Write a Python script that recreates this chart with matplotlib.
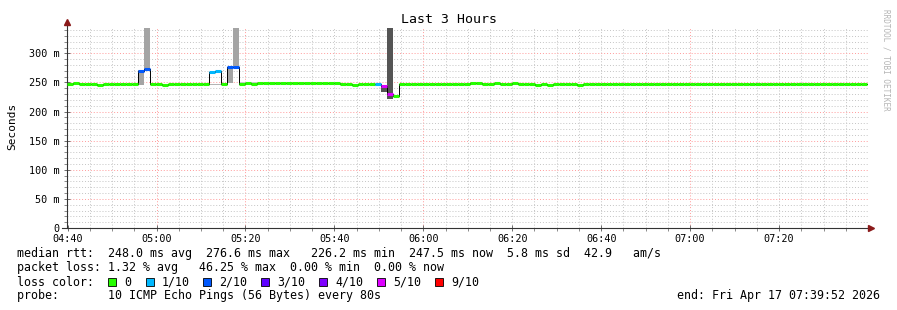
import numpy as np
import matplotlib
matplotlib.use('Agg')
import matplotlib.pyplot as plt
from matplotlib.patches import Rectangle
from matplotlib.lines import Line2D

# --- data ---
# one value per 80 s step, first step starts at 04:39:52
step_min = 80 / 60.0
t_start = -8 / 60.0  # minutes relative to 04:40

median_ms = [
    248.0, 248.2, 246.6, 246.5, 246.7, 246.4, 246.6, 246.5, 246.6, 248.0,
    247.9, 246.5, 270.5, 273.5, 246.5, 248.0, 246.4, 246.6, 248.0, 247.8,
    248.1, 248.0, 246.6, 246.5, 268.0, 270.0, 248.0, 276.6, 276.6, 248.0,
    248.2, 248.0, 249.0, 249.2, 248.8, 249.0, 249.1, 248.9, 249.0, 249.2,
    249.0, 248.8, 249.0, 249.1, 249.0, 248.9, 247.8, 246.5, 246.4, 247.6,
    247.5, 247.4, 247.0, 244.5, 231.0, 226.2, 246.8, 247.5, 247.6, 247.4,
    247.5, 247.6, 247.5, 247.5, 247.4, 247.6, 247.5, 247.5, 249.0, 249.1,
    247.5, 247.6, 249.0, 247.5, 247.4, 249.0, 247.5, 247.6, 247.5, 246.4,
    246.5, 246.4, 247.5, 247.6, 247.4, 247.5, 245.0, 246.8, 247.0, 246.9,
    247.0, 246.6, 246.8, 247.0, 247.2, 247.5, 247.3, 247.5, 247.4, 247.6,
    247.5, 247.6, 247.5, 247.8, 247.5, 247.4, 247.6, 247.5, 247.3, 247.5,
    247.7, 247.5, 247.6, 247.4, 247.5, 247.5, 247.6, 247.8, 247.5, 247.4,
    247.5, 247.6, 247.5, 247.3, 247.5, 247.6, 247.7, 247.5, 247.4, 247.5,
    247.6, 247.5, 247.6, 247.5, 247.5,
]

loss_steps = [12, 13, 24, 25, 27, 28, 52, 53, 54]
loss_count = [2, 2, 1, 1, 2, 2, 1, 5, 5]

smoke_steps = [12, 13, 24, 25, 27, 28, 29, 30, 31, 52, 53, 54]
smoke_lo = [246.0, 273.0, 245.5, 245.5, 249.0, 277.0, 247.5, 247.5, 247.5, 244.5, 234.0, 221.0]
smoke_hi = [271.0, 400.0, 247.5, 247.5, 275.0, 400.0, 250.5, 250.5, 250.5, 246.0, 243.5, 400.0]

xtick_min = [0, 20, 40, 60, 80, 100, 120, 140, 160]
xtick_labels = ['04:40', '05:00', '05:20', '05:40', '06:00', '06:20', '06:40', '07:00', '07:20']
red_vlines = [20, 40, 80, 140]
ytick_ms = [0, 50, 100, 150, 200, 250, 300]
ytick_labels = ['0', '50 m', '100 m', '150 m', '200 m', '250 m', '300 m']

legend_loss = [0, 1, 2, 3, 4, 5, 9]
legend_loss_labels = ['0', '1/10', '2/10', '3/10', '4/10', '5/10', '9/10']

# --- styles ---
loss_colors = {0: '#26ff00', 1: '#00b8ff', 2: '#0059ff', 3: '#5e00ff',
               4: '#7e00ff', 5: '#dd00ff', 9: '#ff0000'}
smoke_shade = {0: '#c8c8c8', 1: '#b4b4b4', 2: '#a4a4a4', 5: '#555555'}
mono = 'DejaVu Sans Mono'
W, H = 897, 310

def fx(px):
    return px / W

def fy(py):
    return 1 - py / H

n = len(median_ms)
loss = np.zeros(n, dtype=int)
loss[loss_steps] = loss_count
edges = t_start + step_min * np.arange(n + 1)

fig = plt.figure(figsize=(W / 100, H / 100), dpi=100)
renderer = fig.canvas.get_renderer()

def fit_size(s, target_px, lo, hi):
    # pick the font size whose rendered width is closest to the reference width
    best, best_err = lo, 1e9
    for fsz in np.arange(lo, hi, 0.05):
        t = fig.text(0, 0, s, family=mono, fontsize=fsz)
        err = abs(t.get_window_extent(renderer=renderer).width - target_px)
        t.remove()
        if err < best_err:
            best, best_err = fsz, err
    return best

probe_txt = 'probe:       10 ICMP Echo Pings (56 Bytes) every 80s'
fs = fit_size(probe_txt, 362.5, 7.6, 9.0)
fs_title = fit_size('Last 3 Hours', 96, 8.5, 10.5)
fs_tick = fit_size('05:00', 30.5, 6.4, 8.0)

ax = fig.add_axes([fx(67), fy(228), (868 - 67) / W, 200 / H])
ax.set_xlim(edges[0], edges[-1])
ax.set_ylim(0, 343.5)

# grid
dots = (0, (1, 2))
for m in range(5, 181, 5):
    c = '#ff9a9a' if m in red_vlines else '#c4c4c4'
    ax.axvline(m, color=c, lw=0.7, ls=dots, zorder=0)
for v in range(10, 341, 10):
    c = '#ff9a9a' if v % 50 == 0 else '#c4c4c4'
    ax.axhline(v, color=c, lw=0.7, ls=dots, zorder=0)

# smoke
sm_loss = [loss[s] for s in smoke_steps]
ax.bar(edges[smoke_steps], np.array(smoke_hi) - np.array(smoke_lo), bottom=smoke_lo,
       width=step_min, align='edge', color=[smoke_shade[l] for l in sm_loss], lw=0, zorder=1)

# median: thin black step line, then loss coloured segments
ax.step(edges, median_ms + [median_ms[-1]], where='post', color='#000000', lw=0.7, zorder=2)
ax.hlines(median_ms, edges[:-1], edges[1:], colors=[loss_colors[l] for l in loss], lw=2.2, zorder=3)

# axes
for s in ax.spines.values():
    s.set_visible(False)
ax.add_line(Line2D([0, 0], [0, 1.03], transform=ax.transAxes, color='#333333', lw=0.8, clip_on=False))
ax.add_line(Line2D([-0.006, 1.004], [0, 0], transform=ax.transAxes, color='#333333', lw=0.8, clip_on=False))
ax.plot([0], [1.03], marker='^', ms=4, color='#8b1a1a', transform=ax.transAxes, clip_on=False)
ax.plot([1.004], [0], marker='>', ms=4, color='#8b1a1a', transform=ax.transAxes, clip_on=False)

ax.set_xticks(xtick_min)
ax.set_xticklabels(xtick_labels, family=mono, fontsize=fs_tick)
ax.set_xticks(np.arange(0, 181, 5), minor=True)
ax.set_yticks(ytick_ms)
ax.set_yticklabels(ytick_labels, family=mono, fontsize=fs_tick)
ax.set_yticks(np.arange(0, 341, 10), minor=True)
ax.tick_params(which='major', direction='inout', length=4, width=0.6, color='#555555', pad=2.5)
ax.tick_params(which='minor', direction='out', length=2, width=0.6, color='#777777')
ax.tick_params(axis='y', pad=3.5)

# texts
fig.text(0.5, fy(19.5), 'Last 3 Hours', ha='center', va='center', family=mono, fontsize=fs_title)
fig.text(fx(12), fy(126), 'Seconds', rotation=90, ha='center', va='center', family=mono, fontsize=fs - 0.3)
fig.text(fx(886), fy(60), 'RRDTOOL / TOBI OETIKER', rotation=270, ha='center', va='center',
         family=mono, fontsize=5.5, color='#b4b4b4')

lx = fx(16.5)
fig.text(lx, fy(254), 'median rtt:  248.0 ms avg  276.6 ms max   226.2 ms min  247.5 ms now  5.8 ms sd  42.9   am/s',
         va='center', family=mono, fontsize=fs)
fig.text(lx, fy(268), 'packet loss: 1.32 % avg   46.25 % max  0.00 % min  0.00 % now',
         va='center', family=mono, fontsize=fs)
fig.text(lx, fy(282), 'loss color:', va='center', family=mono, fontsize=fs)
box_x = [108, 146, 203, 261, 319, 377, 435]
for bx, l, lab in zip(box_x, legend_loss, legend_loss_labels):
    fig.patches.append(Rectangle((fx(bx), fy(286)), 8 / W, 8 / H, transform=fig.transFigure,
                                 facecolor=loss_colors[l], edgecolor='#000000', lw=0.6))
    fig.text(fx(bx + 16), fy(282), lab, va='center', family=mono, fontsize=fs)
fig.text(lx, fy(296), probe_txt, va='center', family=mono, fontsize=fs)
fig.text(fx(880), fy(296), 'end: Fri Apr 17 07:39:52 2026', ha='right', va='center', family=mono, fontsize=fs)

fig.savefig('out.png', dpi=100)
